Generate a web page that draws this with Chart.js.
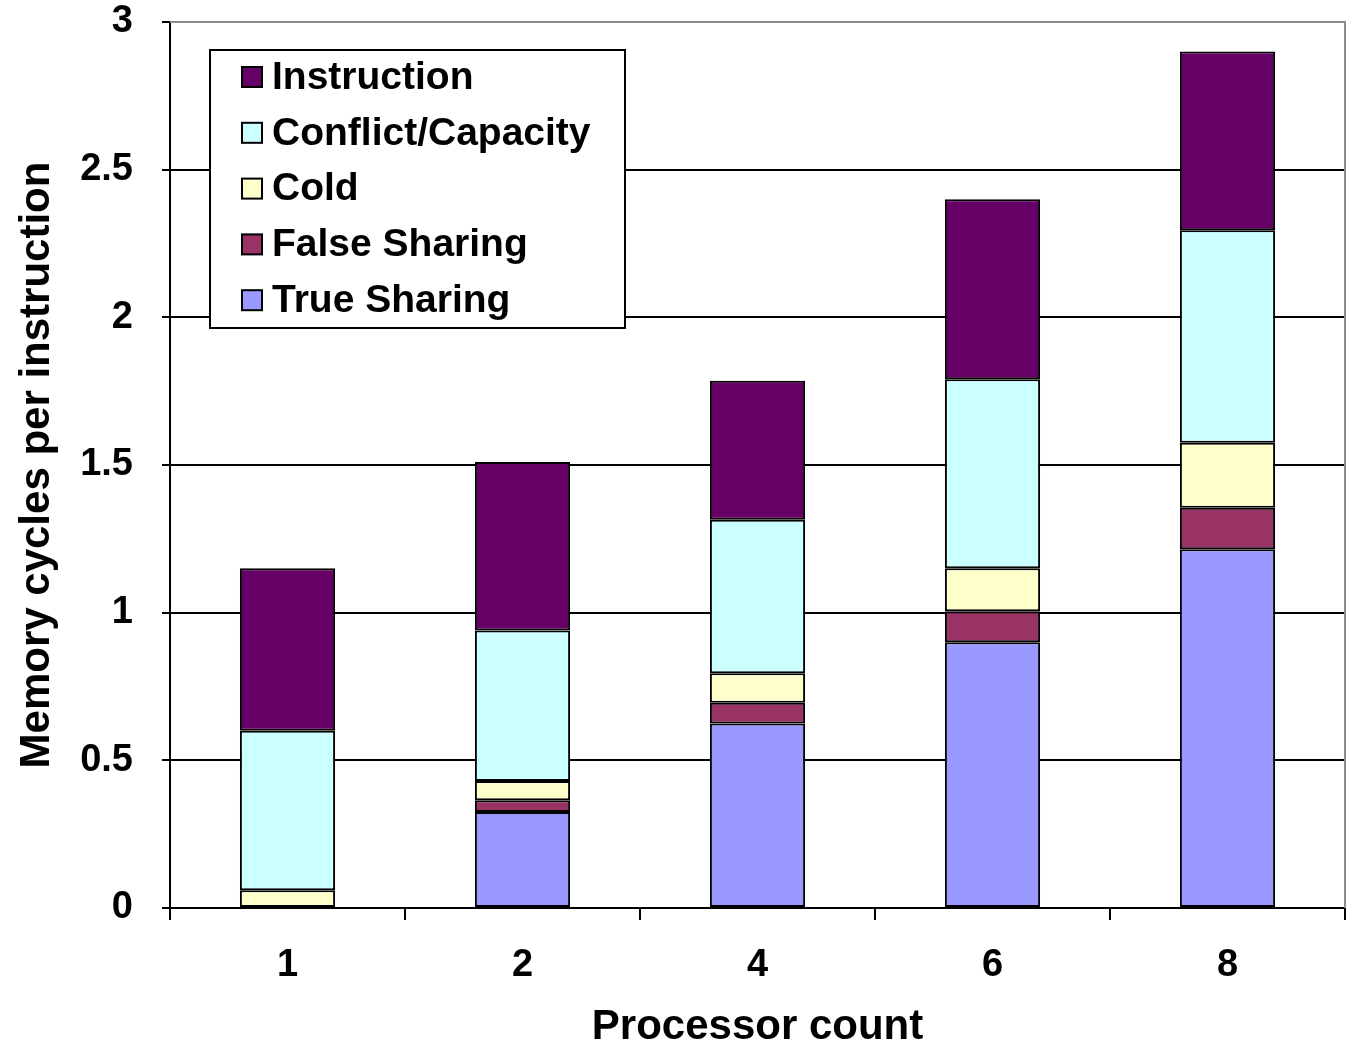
<!DOCTYPE html>
<html lang="en">
<head>
    <meta charset="UTF-8">
    <title>Memory cycles per instruction</title>
    <script src="https://cdn.jsdelivr.net/npm/chart.js"></script>
    <style>
        body { margin: 0; background: #fff; }
        #wrap { width: 1349px; height: 1046px; position: relative; }
    </style>
</head>
<body>
<div id="wrap"><canvas id="missChart"></canvas></div>
<script>
// dati
const processors = ['1', '2', '4', '6', '8'];
const trueSharing = [0, 0.325, 0.625, 0.9, 1.215];
const falseSharing = [0, 0.04, 0.07, 0.105, 0.14];
const cold = [0.06, 0.065, 0.1, 0.145, 0.22];
const conflictCapacity = [0.54, 0.51, 0.52, 0.64, 0.72];
const instruction = [0.55, 0.57, 0.47, 0.61, 0.605];
const yTickLabels = ['0', '0.5', '1', '1.5', '2', '2.5', '3'];

const FONT = '"Liberation Sans", Arial, sans-serif';

// legenda disegnata dentro l'area del grafico
const boxLegend = {
    id: 'boxLegend',
    afterDraw(chart) {
        const ctx = chart.ctx;
        const a = chart.chartArea;
        const x = a.left + 40, y = a.top + 28, w = 415, h = 278;
        ctx.save();
        ctx.fillStyle = '#fff';
        ctx.fillRect(x, y, w, h);
        ctx.strokeStyle = '#000';
        ctx.lineWidth = 2;
        ctx.strokeRect(x, y, w, h);
        ctx.font = 'bold 39px ' + FONT;
        ctx.textBaseline = 'middle';
        const items = chart.data.datasets.slice().reverse();
        items.forEach((ds, i) => {
            const cy = y + 27 + i * 55.8;
            ctx.fillStyle = ds.backgroundColor;
            ctx.fillRect(x + 32, cy - 10, 20, 20);
            ctx.lineWidth = 2;
            ctx.strokeRect(x + 32, cy - 10, 20, 20);
            ctx.fillStyle = '#000';
            ctx.fillText(ds.label, x + 62, cy + 1);
        });
        ctx.restore();
    }
};

// bordo grigio dell'area del grafico
const areaBorder = {
    id: 'areaBorder',
    beforeDatasetsDraw(chart) {
        const ctx = chart.ctx;
        const a = chart.chartArea;
        ctx.save();
        ctx.strokeStyle = '#8c8c8c';
        ctx.lineWidth = 2;
        ctx.beginPath();
        ctx.moveTo(a.left, a.top);
        ctx.lineTo(a.right, a.top);
        ctx.lineTo(a.right, a.bottom);
        ctx.stroke();
        ctx.restore();
    }
};

function makeSet(label, data, color) {
    return {
        label: label,
        data: data,
        backgroundColor: color,
        borderColor: '#000',
        borderWidth: 2,
        borderSkipped: false,
        barPercentage: 0.405,
        categoryPercentage: 1.0
    };
}

new Chart(document.getElementById('missChart'), {
    type: 'bar',
    data: {
        labels: processors,
        datasets: [
            makeSet('True Sharing', trueSharing, '#9999FF'),
            makeSet('False Sharing', falseSharing, '#993366'),
            makeSet('Cold', cold, '#FFFFCC'),
            makeSet('Conflict/Capacity', conflictCapacity, '#CCFFFF'),
            makeSet('Instruction', instruction, '#660066')
        ]
    },
    options: {
        responsive: true,
        maintainAspectRatio: false,
        animation: false,
        layout: { padding: { top: 22, right: 4, left: 0, bottom: 0 } },
        plugins: {
            legend: { display: false },
            tooltip: { enabled: false }
        },
        scales: {
            x: {
                stacked: true,
                grid: {
                    offset: true,
                    drawOnChartArea: false,
                    color: '#000',
                    lineWidth: 2,
                    tickLength: 12
                },
                border: { color: '#000', width: 2 },
                ticks: {
                    color: '#000',
                    padding: 23,
                    font: { family: FONT, size: 38, weight: 'bold' },
                    maxRotation: 0
                },
                title: {
                    display: true,
                    text: 'Processor count',
                    color: '#000',
                    padding: { top: -7, bottom: -7 },
                    font: { family: FONT, size: 42, weight: 'bold' }
                },
                afterFit(scale) {
                    scale.height = 138;
                    scale.paddingLeft = 0;
                    scale.paddingRight = 0;
                }
            },
            y: {
                stacked: true,
                min: 0,
                max: 3,
                ticks: {
                    stepSize: 0.5,
                    color: '#000',
                    padding: 29,
                    font: { family: FONT, size: 38, weight: 'bold' },
                    callback: (v, i) => yTickLabels[i]
                },
                grid: {
                    color: ctx => ctx.index === 6 ? '#8c8c8c' : '#000',
                    lineWidth: 2,
                    tickLength: 8,
                    tickColor: '#000'
                },
                border: { color: '#000', width: 2 },
                title: {
                    display: true,
                    text: 'Memory cycles per instruction',
                    color: '#000',
                    padding: { top: 12, bottom: 0 },
                    font: { family: FONT, size: 42, weight: 'bold' }
                },
                afterFit(scale) {
                    scale.width = 170;
                    scale.paddingTop = 0;
                    scale.paddingBottom = 0;
                }
            }
        }
    },
    plugins: [areaBorder, boxLegend]
});
</script>
</body>
</html>
